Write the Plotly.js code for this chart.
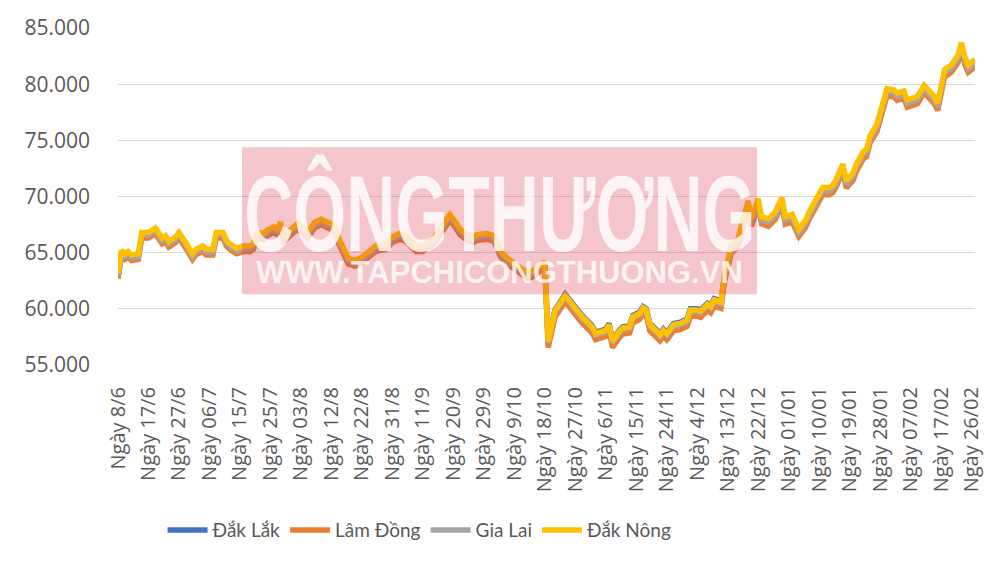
<!DOCTYPE html>
<html><head><meta charset="utf-8">
<script src="https://cdn.plot.ly/plotly-3.0.1.min.js"></script>
<style>
html,body{margin:0;padding:0;background:#fff}
g.annotation[data-index="0"] text.annotation-text{transform-box:fill-box;transform-origin:50% 50%;transform:scaleX(0.63);}
</style>
</head><body><div id="chart" style="width:1000px;height:561px"></div>
<script>
// day index (sequence position of each reading along the category axis)
const dayIndex = [0,1,2,3,4,6,7,9,11,12,13,14,15,17,18,20,22,23,25,26,28,29,31,32,33,35,37,39,40,41,43,44,46,47,48,49,51,53,55,56,58,60,62,64,65,67,68,70,72,74,76,79,81,83,85,86,88,90,91,93,95,97,98,99,101,103,105,106,108,109,111,112,113,115,117,119,121,122,124,126,
127,129,132,133,135,137,138,140,141,143,144,145,146,148,149,151,152,154,155,156,157,158,160,161,162,164,166,168,169,171,172,174,175,176,178,
179,181,183,184,185,186,187,189,190,192,194,196,197,199,201,203,204,206,208,210,211,212,214,215,217,218,220,221,222,224,225,226,227,229,230,232,233,235,236,238,239,241,242,243,244,246,247,248,249,250,251,253];

const dakNong = [63200,65200,64900,65100,64800,64900,66800,66800,67200,66700,66300,66500,66000,66400,66800,65900,64900,65300,65600,65300,65300,66800,66800,66100,65800,65400,65600,65600,65800,66800,66700,67000,67300,67100,67700,66500,67000,67600,67100,66800,67700,68000,67700,67400,66400,65100,64500,64300,64600,65100,65600,65800,66400,66700,66500,66200,65600,65600,65900,66200,67100,68100,68400,68000,67100,66600,66400,66600,66700,66700,66500,65900,65100,64500,64000,63600,63200,63300,63700,64200,
57100,59800,61200,60800,59900,59300,59000,58400,57800,58000,58100,58600,57100,58000,58300,58400,59300,59600,60100,59900,58600,58300,57700,58100,57800,58600,58700,59000,59900,59900,59800,60400,60200,60800,60600,
63000,65600,66200,67300,68600,69600,68000,69800,68200,68000,68600,69900,68200,68400,67100,67900,68600,69800,70800,70800,71000,71500,72900,71400,72100,72900,74000,74200,75400,76400,77400,78600,79600,79500,79200,79400,78600,78800,78900,79900,79600,78900,78300,79800,81300,81700,82100,82600,83700,82400,81700,82200];

const giaLai = [62950,64950,64650,64850,64550,64650,66550,66550,66950,66450,66050,66250,65750,66150,66550,65650,64650,65050,65350,65050,65050,66550,66550,65850,65550,65150,65350,65350,65550,66550,66450,66750,67050,66850,67450,66250,66750,67350,66850,66550,67450,67750,67450,67150,66150,64850,64250,64050,64350,64850,65350,65550,66150,66450,66250,65950,65350,65350,65650,65950,66850,67850,68150,67750,66850,66350,66150,66350,66450,66450,66250,65650,64850,64250,63750,63350,62950,63050,63450,63950,
56950,59650,61050,60650,59750,59150,58850,58250,57650,57850,57950,58450,56950,57850,58150,58250,59150,59450,59950,59750,58450,58150,57550,57950,57650,58450,58550,58850,59750,59750,59650,60250,60050,60650,60450,
62700,65300,65900,67000,68300,69300,67700,69500,67900,67700,68300,69600,67900,68100,66800,67600,68300,69500,70500,70500,70700,71200,72600,71100,71800,72600,73700,73900,75100,76100,77100,78300,79300,79200,78900,79100,78300,78500,78600,79600,79300,78600,78000,79500,81000,81400,81800,82300,83400,82100,81400,81900];

const dakLak = [62900,64900,64600,64800,64500,64600,66500,66500,66900,66400,66000,66200,65700,66100,66500,65600,64600,65000,65300,65000,65000,66500,66500,65800,65500,65100,65300,65300,65500,66500,66400,66700,67000,66800,67400,66200,66700,67300,66800,66500,67400,67700,67400,67100,66100,64800,64200,64000,64300,64800,65300,65500,66100,66400,66200,65900,65300,65300,65600,65900,66800,67800,68100,67700,66800,66300,66100,66300,66400,66400,66200,65600,64800,64200,63700,63300,62900,63000,63400,63900,
57200,59900,61300,60900,60000,59400,59100,58500,57900,58100,58200,58700,57200,58100,58400,58500,59400,59700,60200,60000,58700,58400,57800,58200,57900,58700,58800,59100,60000,60000,59900,60500,60300,60900,60700,
62650,65250,65850,66950,68250,69250,67650,69450,67850,67650,68250,69550,67850,68050,66750,67550,68250,69450,70450,70450,70650,71150,72550,71050,71750,72550,73650,73850,75050,76050,77050,78250,79250,79150,78850,79050,78250,78450,78550,79550,79250,78550,77950,79450,80950,81350,81750,82250,83350,82050,81350,81850];

const lamDong = [62700,64700,64400,64600,64300,64400,66300,66300,66700,66200,65800,66000,65500,65900,66300,65400,64400,64800,65100,64800,64800,66300,66300,65600,65300,64900,65100,65100,65300,66300,66200,66500,66800,66600,67200,66000,66500,67100,66600,66300,67200,67500,67200,66900,65900,64600,64000,63800,64100,64600,65100,65300,65900,66200,66000,65700,65100,65100,65400,65700,66600,67600,67900,67500,66600,66100,65900,66100,66200,66200,66000,65400,64600,64000,63500,63100,62700,62800,63200,63700,
56550,59250,60650,60250,59350,58750,58450,57850,57250,57450,57550,58050,56550,57450,57750,57850,58750,59050,59550,59350,58050,57750,57150,57550,57250,58050,58150,58450,59350,59350,59250,59850,59650,60250,60050,
62350,64950,65550,66650,67950,68950,67350,69150,67550,67350,67950,69250,67550,67750,66450,67250,67950,69150,70150,70150,70350,70850,72250,70750,71450,72250,73350,73550,74750,75750,76750,77950,78950,78850,78550,78750,77950,78150,78250,79250,78950,78250,77650,79150,80650,81050,81450,81950,83050,81750,81050,81550];

const tickIndex = [0,9,18,27,36,45,54,63,72,81,90,99,108,117,126,135,144,153,162,171,180,189,198,207,216,225,234,243,252];
const tickLabels = ["Ngày 8/6","Ngày 17/6","Ngày 27/6","Ngày 06/7","Ngày 15/7","Ngày 25/7","Ngày 03/8","Ngày 12/8","Ngày 22/8","Ngày 31/8","Ngày 11/9","Ngày 20/9","Ngày 29/9","Ngày 9/10","Ngày 18/10","Ngày 27/10","Ngày 6/11","Ngày 15/11","Ngày 24/11","Ngày 4/12","Ngày 13/12","Ngày 22/12","Ngày 01/01","Ngày 10/01","Ngày 19/01","Ngày 28/01","Ngày 07/02","Ngày 17/02","Ngày 26/02"];

const seriesNames = ["Đắk Lắk","Lâm Đồng","Gia Lai","Đắk Nông"];
const seriesColors = ["#4472C4","#ED7D31","#A5A5A5","#FFC000"];
const seriesValues = [dakLak, lamDong, giaLai, dakNong];

seriesValues.forEach(function(s, i){
  if (s.length !== dayIndex.length) throw new Error("length mismatch " + seriesNames[i] + " " + s.length + " vs " + dayIndex.length);
});

const traces = seriesValues.map(function(vals, i){
  return {
    type: "scatter", mode: "lines", name: seriesNames[i],
    x: dayIndex, y: vals,
    line: {color: seriesColors[i], width: 5.5, shape: "linear"},
    hoverinfo: "skip"
  };
});

const layout = {
  width: 1000, height: 561,
  margin: {l: 118, r: 25, t: 28, b: 194},
  paper_bgcolor: "#ffffff", plot_bgcolor: "#ffffff",
  separators: ",.",
  showlegend: true,
  font: {family: "Open Sans, sans-serif", color: "#595959"},
  xaxis: {
    range: [0, 253], tickmode: "array", tickvals: tickIndex, ticktext: tickLabels,
    tickangle: -90, showgrid: false, zeroline: false, showline: false, ticks: "",
    ticklabelstandoff: 17,
    tickfont: {family: "Open Sans, sans-serif", size: 20, color: "#595959"}
  },
  yaxis: {
    range: [55000, 85000], dtick: 5000, tick0: 55000, tickformat: ",.0f",
    showgrid: true, gridcolor: "#D9D9D9", gridwidth: 1.3, zeroline: false, showline: false, ticks: "",
    ticklabelstandoff: 27,
    tickfont: {family: "Open Sans, sans-serif", size: 21, color: "#595959"}
  },
  legend: {
    orientation: "h", x: 0.052, xanchor: "left", y: -0.49, yanchor: "middle",
    itemwidth: 40,
    font: {family: "Lato, sans-serif", size: 19, color: "#595959"},
    bgcolor: "rgba(0,0,0,0)"
  },
  shapes: [{
    type: "rect", xref: "paper", yref: "paper", layer: "above",
    x0: 0.1447, x1: 0.7456, y0: 0.2099, y1: 0.6458,
    fillcolor: "rgba(215,40,60,0.27)", line: {width: 0}
  }],
  annotations: [
    {xref: "paper", yref: "paper", x: 0.4457, y: 0.45, xanchor: "center", yanchor: "middle",
     text: "<b>CÔNGTHƯƠNG</b>", showarrow: false,
     font: {family: "Liberation Sans, Arial, sans-serif", size: 108, color: "rgba(255,255,255,0.8)"}},
    {xref: "paper", yref: "paper", x: 0.4457, y: 0.275, xanchor: "center", yanchor: "middle",
     text: "<b>WWW.TAPCHICONGTHUONG.VN</b>", showarrow: false,
     font: {family: "Liberation Sans, Arial, sans-serif", size: 31, color: "rgba(255,255,255,0.8)"}}
  ]
};

Plotly.newPlot("chart", traces, layout, {displayModeBar: false, staticPlot: true});
</script>
</body></html>
